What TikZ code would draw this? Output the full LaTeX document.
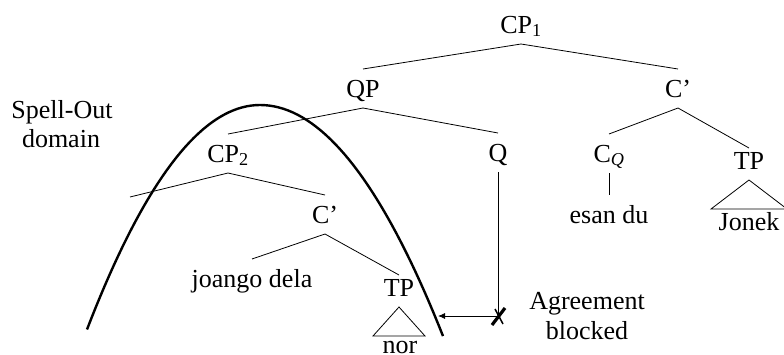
\documentclass[tikz,border=0pt]{standalone}
\usepackage{fontspec}
\setmainfont{Liberation Serif}
\usetikzlibrary{arrows.meta}
\begin{document}
\begin{tikzpicture}[x=1pt,y=-1pt,
  lab/.style={font=\fontsize{26}{30}\selectfont, anchor=base, inner sep=0pt},
  tn/.style={lab, text height=17pt, text depth=0pt, outer xsep=0pt, outer ysep=11pt},
  branch/.style={line width=0.8pt},
  domaincurve/.style={line width=2.4pt},
  agr/.style={line width=0.8pt, -{Latex[length=7pt,width=6pt]}}]
\useasboundingbox (0,0) rectangle (784,354);
% tree nodes
\node[tn] (CP1) at (521,33) {CP\textsubscript{1}};
\node[tn] (QP) at (363,97) {QP};
\node[tn] (Cr) at (678,97) {C'};
\node[tn] (CP2) at (228,162) {CP\textsubscript{2}};
\node[tn] (Q) at (498,161) {Q};
\node[tn] (CQ) at (609,162) {C\textsubscript{\textit{Q}}};
\node[tn] (TPr) at (749,169) {TP};
\node[tn] (Cl) at (325,223) {C'};
\node[tn] (jd) at (252,287) {joango dela};
\node[tn] (TPl) at (399,296) {TP};
\node[tn] (esan) at (609,223) {esan du};
\node[lab] (jonek) at (749,230) {Jonek};
\node[lab] (nor) at (400,353) {nor};
\node[lab] (spell) at (62,118) {Spell-Out};
\node[lab] (dom) at (61,147) {domain};
\node[lab] (agree) at (587,309) {Agreement};
\node[lab] (blocked) at (587,339) {blocked};
\coordinate (spec) at (130,197);
\coordinate (blk) at (498,316);
\coordinate (tipc) at (438,316);
% branches
\draw[branch] (QP.north) -- (CP1.south) -- (Cr.north);
\draw[branch] (CP2.north) -- (QP.south) -- (Q.north);
\draw[branch] (CQ.north) -- (Cr.south) -- ([yshift=-7pt]TPr.north);
\draw[branch] (spec) -- (CP2.south) -- (Cl.north);
\draw[branch] (jd.north) -- (Cl.south) -- ([yshift=-7pt]TPl.north);
\draw[branch] (CQ.south) -- (esan.north);
\draw[branch] (TPl.south) -- ++(-26,29) -- ++(52,0) -- cycle;
\draw[branch] (TPr.south) -- ++(-38,29) -- ++(76,0) -- cycle;
% spell-out domain curve
\draw[domaincurve] plot[domain=-173:0, samples=40] ({260+\x},{105+0.75*(\x/10)*(\x/10)})
  -- plot[domain=0:183, samples=40] ({260+\x},{105+0.69*(\x/10)*(\x/10)});
% agreement
\draw[branch] (Q.south) -- (blk);
\draw[agr] (blk) -- (tipc);
\draw[line width=3.2pt] ([shift={(-6,9)}]blk) -- ([shift={(7,-8)}]blk);
\draw[line width=1.5pt] ([shift={(-3,-7)}]blk) -- ([shift={(5,8)}]blk);
\end{tikzpicture}
\end{document}
